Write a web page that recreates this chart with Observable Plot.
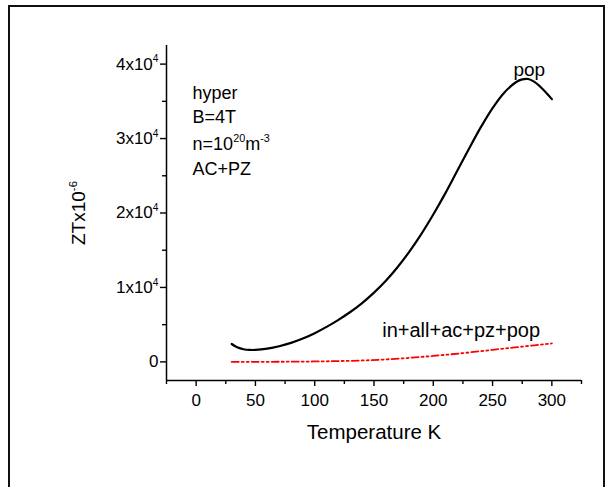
<!DOCTYPE html>
<html>
<head>
<meta charset="utf-8">
<script src="https://cdn.jsdelivr.net/npm/d3@7"></script>
<script src="https://cdn.jsdelivr.net/npm/@observablehq/plot@0.6"></script>
<style>
  html, body { margin: 0; padding: 0; background: #fff; overflow: hidden; }
  #wrap { position: relative; width: 613px; height: 487px; overflow: hidden; background: #fff; }
  #frame { position: absolute; left: 8px; top: 5px; width: 597px; height: 600px; box-sizing: border-box; border: 2px solid #111; pointer-events: none; }
</style>
</head>
<body>
<div id="wrap"><div id="frame"></div></div>
<script>
// ---- data ----
const popT  = [30, 33, 36, 40, 45, 50, 60, 70, 80, 90, 100, 110, 120, 130, 140, 150, 160, 170, 180, 190, 200, 210, 220, 230, 240, 250, 260, 270, 275, 280, 285, 290, 295, 300];
const popZT = [2400, 2100, 1880, 1700, 1610, 1610, 1780, 2100, 2550, 3130, 3850, 4700, 5650, 6700, 7900, 9300, 10900, 12750, 14850, 17200, 19800, 22600, 25600, 28600, 31500, 34100, 36200, 37600, 37950, 38000, 37650, 37000, 36200, 35300];
const allT  = [30, 60, 90, 120, 140, 160, 180, 200, 225, 250, 275, 300];
const allZT = [0, 10, 40, 110, 190, 330, 540, 800, 1180, 1620, 2050, 2480];
const xTicks = [0, 50, 100, 150, 200, 250, 300];
const xMinorTicks = [-25, 25, 75, 125, 175, 225, 275, 325];
const yTicks = [0, 10000, 20000, 30000, 40000];
const yMinorTicks = [5000, 15000, 25000, 35000];
const infoLines = ["hyper", "B=4T", "n=10^{20}m^{-3}", "AC+PZ"];
const popLabel = ["pop"];
const allLabel = ["in+all+ac+pz+pop"];
const xTitle = "Temperature K";
const yTitle = "ZTx10^{-6}";

const popData = popT.map((t, i) => ({T: t, ZT: popZT[i]}));
const allData = allT.map((t, i) => ({T: t, ZT: allZT[i]}));

const font = "'Liberation Sans', Arial, sans-serif";

const chart = Plot.plot({
  width: 613,
  height: 487,
  marginLeft: 166,
  marginRight: 32,
  marginTop: 45,
  marginBottom: 107,
  x: {domain: [-25, 325]},
  y: {domain: [-2500, 42500]},
  style: {fontFamily: font, background: "transparent", color: "#000", overflow: "visible"},
  marks: [
    Plot.axisX({ticks: xTicks, tickSize: 6, tickPadding: 7, fontSize: 17, strokeWidth: 1.4, label: null}),
    Plot.axisX({ticks: xMinorTicks, tickSize: 4, tickFormat: () => "", strokeWidth: 1.4, label: null}),
    Plot.axisY({ticks: yTicks, tickSize: 6, tickPadding: 2, fontSize: 17, strokeWidth: 1.4, label: null,
      tickFormat: d => d === 0 ? "0" : `${d / 10000}x10^{4}`}),
    Plot.axisY({ticks: yMinorTicks, tickSize: 4, tickFormat: () => "", strokeWidth: 1.4, label: null}),
    Plot.ruleX([-25], {stroke: "#000", strokeWidth: 1.5}),
    Plot.ruleY([-2500], {stroke: "#000", strokeWidth: 1.5}),
    Plot.line(allData, {x: "T", y: "ZT", stroke: "#ff0000", strokeWidth: 1.8, strokeDasharray: "7,3,2,3,2,3", curve: "monotone-x"}),
    Plot.line(popData, {x: "T", y: "ZT", stroke: "#000", strokeWidth: 2.2, curve: "catmull-rom"}),
    Plot.text(infoLines, {x: () => -3, y: (d, i) => [36100, 32900, 29300, 25900][i], text: d => d,
      textAnchor: "start", lineAnchor: "middle", fontSize: 18, fill: "#000"}),
    Plot.text(popLabel, {x: () => 281, y: () => 39200, text: d => d, textAnchor: "middle", lineAnchor: "middle", fontSize: 19, fill: "#000"}),
    Plot.text(allLabel, {x: () => 223.5, y: () => 4260, text: d => d, textAnchor: "middle", lineAnchor: "middle", fontSize: 20, fill: "#000"}),
    Plot.text([xTitle], {frameAnchor: "bottom", dy: 52, text: d => d, lineAnchor: "middle", fontSize: 20.5, fill: "#000"}),
    Plot.text([yTitle], {frameAnchor: "left", dx: -88, rotate: -90, text: d => d, lineAnchor: "middle", textAnchor: "middle", fontSize: 19, fill: "#000"})
  ]
});

// superscripts: turn "^{...}" into raised tspans
function supify(svg) {
  svg.querySelectorAll("text").forEach(t => {
    if (t.children.length) return;
    const s = t.textContent;
    if (!s.includes("^{")) return;
    t.textContent = "";
    const ns = "http://www.w3.org/2000/svg";
    const re = /\^\{([^}]*)\}/g;
    let last = 0, m, raised = false;
    const add = (txt, sup) => {
      const ts = document.createElementNS(ns, "tspan");
      ts.textContent = txt;
      if (sup) {
        ts.setAttribute("font-size", "60%");
        if (!raised) ts.setAttribute("dy", "-0.7em");
        raised = true;
      } else {
        if (raised) ts.setAttribute("dy", "0.42em");
        raised = false;
      }
      t.appendChild(ts);
    };
    while ((m = re.exec(s))) {
      if (m.index > last) add(s.slice(last, m.index), false);
      add(m[1], true);
      last = re.lastIndex;
    }
    if (last < s.length) add(s.slice(last), false);
  });
}
supify(chart);
document.getElementById("wrap").insertBefore(chart, document.getElementById("frame"));
</script>
</body>
</html>
